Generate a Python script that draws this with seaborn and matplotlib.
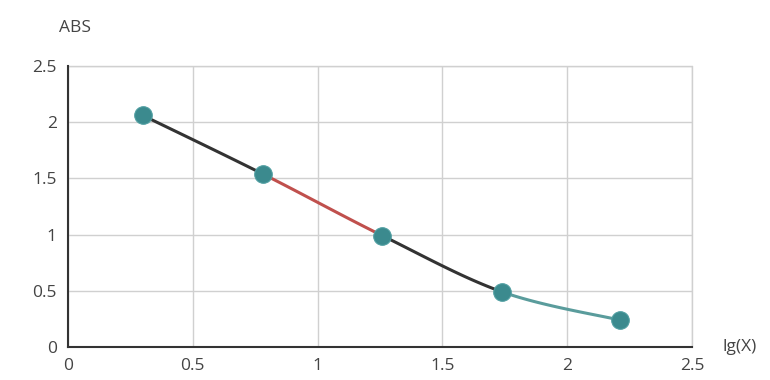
import numpy as np
import pandas as pd
import matplotlib
matplotlib.use("Agg")
import matplotlib.pyplot as plt
import seaborn as sns

# data
lg_x = [0.30, 0.78, 1.26, 1.74, 2.21]
abs_vals = [2.06, 1.54, 0.99, 0.49, 0.24]
segment_colors = ["#333333", "#c0504d", "#333333", "#5a9c9c"]
x_ticks = [0, 0.5, 1, 1.5, 2, 2.5]
y_ticks = [0, 0.5, 1, 1.5, 2, 2.5]
x_tick_labels = ["0", "0.5", "1", "1.5", "2", "2.5"]
y_tick_labels = ["0", "0.5", "1", "1.5", "2", "2.5"]

sns.set_style("white")
plt.rcParams["font.family"] = ["Open Sans", "DejaVu Sans"]

fig = plt.figure(figsize=(7.7, 3.8), dpi=100)
ax = fig.add_axes([0.0883, 0.0868, 0.8104, 0.7395])

df = pd.DataFrame({"lg": lg_x, "abs": abs_vals})


def smooth_segment(xs, ys, i, n=30):
    # cardinal (catmull-rom) spline between point i and i+1
    p0 = np.array([xs[max(i - 1, 0)], ys[max(i - 1, 0)]])
    p1 = np.array([xs[i], ys[i]])
    p2 = np.array([xs[i + 1], ys[i + 1]])
    p3 = np.array([xs[min(i + 2, len(xs) - 1)], ys[min(i + 2, len(xs) - 1)]])
    t = np.linspace(0, 1, n)[:, None]
    m1 = (p2 - p0) / 2
    m2 = (p3 - p1) / 2
    h00 = 2 * t**3 - 3 * t**2 + 1
    h10 = t**3 - 2 * t**2 + t
    h01 = -2 * t**3 + 3 * t**2
    h11 = t**3 - t**2
    pts = h00 * p1 + h10 * m1 + h01 * p2 + h11 * m2
    return pts[:, 0], pts[:, 1]


for i, col in enumerate(segment_colors):
    sx, sy = smooth_segment(lg_x, abs_vals, i)
    ax.plot(sx, sy, color=col, lw=2.2, solid_capstyle="round", zorder=3)

sns.scatterplot(data=df, x="lg", y="abs", ax=ax, s=160, color="#3b8a8e",
                edgecolor="#4f9ea1", linewidth=0.8, zorder=4, legend=False)

ax.set_xlim(0, 2.5)
ax.set_ylim(0, 2.5)
ax.set_xticks(x_ticks)
ax.set_xticklabels(x_tick_labels)
ax.set_yticks(y_ticks)
ax.set_yticklabels(y_tick_labels)
ax.set_xlabel("")
ax.set_ylabel("")
ax.grid(True, color="#d0d0d0", lw=1)
ax.set_axisbelow(True)

for side in ["top", "right"]:
    ax.spines[side].set_visible(False)
for side in ["left", "bottom"]:
    ax.spines[side].set_color("#333333")
    ax.spines[side].set_linewidth(1.5)
ax.tick_params(axis="both", direction="out", length=6, width=1.2,
               color="#333333", labelsize=12.5, labelcolor="#444444", pad=2)
ax.tick_params(axis="x", pad=2)

# grid lines at the far edges
ax.axhline(2.5, color="#d0d0d0", lw=1, zorder=0, clip_on=False)
ax.axvline(2.5, color="#d0d0d0", lw=1, zorder=0, clip_on=False)

fig.text(0.097, 0.925, "ABS", fontsize=12.5, color="#444444", ha="center", va="center")
fig.text(0.961, 0.087, "lg(X)", fontsize=12.5, color="#444444", ha="center", va="center")

fig.savefig("out.png", dpi=100, facecolor="white")
